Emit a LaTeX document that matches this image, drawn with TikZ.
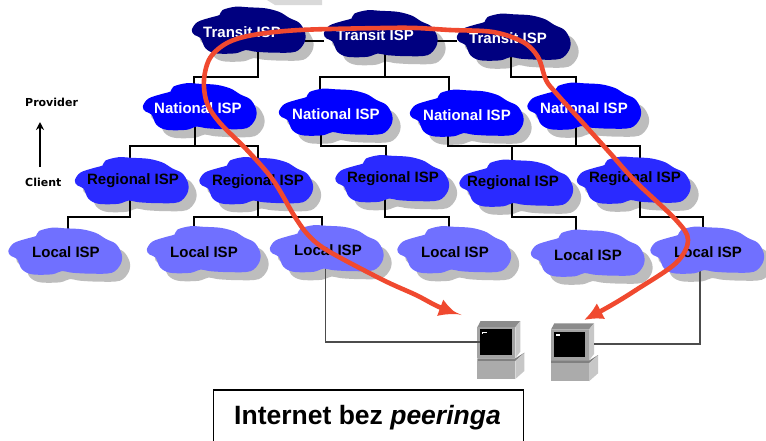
\documentclass[tikz,border=0pt]{standalone}
\usepackage{fontspec}
\setmainfont{Liberation Sans}
\newfontfamily\legendfont{DejaVu Sans}
\usetikzlibrary{arrows.meta}
\pgfdeclarelayer{shadowlayer}
\pgfdeclarelayer{cloudlayer}
\pgfdeclarelayer{redlayer}
\pgfsetlayers{shadowlayer,main,cloudlayer,redlayer}
\definecolor{transitblue}{HTML}{000080}
\definecolor{nationalblue}{HTML}{0000FF}
\definecolor{regionalblue}{HTML}{2A2AFF}
\definecolor{localblue}{HTML}{7070FF}
\definecolor{cloudshadow}{HTML}{BDBDBD}
\definecolor{redpath}{HTML}{F0492F}
\newcommand{\cloudpath}{plot[smooth cycle,tension=.55] coordinates{(-56.7,0)(-51,-8)(-36,-13)(-29,-15)(-26,-20)(-13,-23.3)(0,-22.7)(17,-21.7)(31,-18)(41,-12)(51,-7)(56.7,3)(55.7,13)(47,21.7)(27,22.7)(7,21.7)(-3,20)(-13,23.3)(-33,23.3)(-43,18.3)(-48,8)(-54,5)}}
% name, cx, cy, fill, text colour, tx, ty, label
\newcommand{\ispcloud}[8]{%
  \begin{pgfonlayer}{shadowlayer}
    \fill[cloudshadow,shift={(#2+8,#3+8)}] \cloudpath;
  \end{pgfonlayer}
  \begin{pgfonlayer}{cloudlayer}
    \fill[#4,shift={(#2,#3)}] \cloudpath;
    \node[cloudbox] (#1) at (#2,#3) {};
    \node[cloudtext,text=#5] (#1-t) at (#6,#7) {#8};
  \end{pgfonlayer}}
% name, x, y (top-left)
\newcommand{\computer}[3]{%
  \begin{scope}[shift={(#2,#3)}]
    \fill[black!45] (3.3,0)--(43,0)--(38,6.3)--(0,6.3)--cycle;
    \fill[black!22] (43,0)--(43,30.7)--(38,37.3)--(38,6.3)--cycle;
    \fill[black!36] (0,6.3) rectangle (38,37.3);
    \fill[black] (2.7,8.3) rectangle (34.3,34);
    \fill[white] (4.7,10.7) rectangle (9.3,12.2);
    \fill[white] (4.7,10.7) rectangle (6,13);
    \fill[black!50] (0,37.3)--(38,37.3)--(47,31.7)--(47,32)--(38,40)--(0,40)--cycle;
    \fill[black!33] (0,40) rectangle (38,58);
    \fill[black!22] (38,40)--(47,32)--(47,50)--(38,58)--cycle;
    \node[compbox] (#1) at (19,29) {};
  \end{scope}}
\tikzset{
  cloudbox/.style={minimum width=113pt,minimum height=47pt,inner sep=0pt,outer sep=0pt},
  compbox/.style={minimum width=38pt,minimum height=58pt,inner sep=0pt,outer sep=0pt},
  cloudtext/.style={inner sep=0pt,font=\fontsize{15}{18}\selectfont\bfseries},
  legend/.style={inner sep=0pt,anchor=west,font=\fontsize{11}{13}\selectfont\legendfont\bfseries},
  tree/.style={draw=black,line width=2pt},
  access/.style={draw=black!70,line width=1.2pt},
  redline/.style={draw=redpath,line width=4.6pt,{Latex[width=18pt,length=19pt]}-{Latex[width=18pt,length=19pt]}},
}
\begin{document}
\begin{tikzpicture}[x=1pt,y=-1pt]
\useasboundingbox (0,0) rectangle (766,440);
\begin{pgfonlayer}{shadowlayer}
\fill[white] (0,0) rectangle (766,440);
\fill[black!15] (267,0)--(322,0)--(322,5)--(275,5)--cycle;
\end{pgfonlayer}

\ispcloud{t1}{248.5}{30}{transitblue}{white}{242}{32}{Transit ISP}
\ispcloud{t2}{380.5}{33.5}{transitblue}{white}{375}{35}{Transit ISP}
\ispcloud{t3}{513.5}{37}{transitblue}{white}{508}{38}{Transit ISP}
\ispcloud{n1}{199.5}{106.5}{nationalblue}{white}{198}{108}{National ISP}
\ispcloud{n2}{335.5}{112}{nationalblue}{white}{336}{114}{National ISP}
\ispcloud{n3}{466.5}{113}{nationalblue}{white}{467}{115}{National ISP}
\ispcloud{n4}{584}{106}{nationalblue}{white}{584}{108}{National ISP}
\ispcloud{r1}{131.5}{180.5}{regionalblue}{black}{133}{181}{Regional ISP}
\ispcloud{r2}{256}{180.5}{regionalblue}{black}{258}{182}{Regional ISP}
\ispcloud{r3}{392}{178.5}{regionalblue}{black}{393}{179}{Regional ISP}
\ispcloud{r4}{516}{183}{regionalblue}{black}{513}{183}{Regional ISP}
\ispcloud{r5}{633.5}{180}{regionalblue}{black}{635}{179}{Regional ISP}
\ispcloud{l1}{65}{251}{localblue}{black}{66}{252}{Local ISP}
\ispcloud{l2}{203.5}{249.5}{localblue}{black}{204}{252}{Local ISP}
\ispcloud{l3}{326.5}{248.5}{localblue}{black}{328}{250}{Local ISP}
\ispcloud{l4}{454}{249.5}{localblue}{black}{455}{252}{Local ISP}
\ispcloud{l5}{587.5}{253}{localblue}{black}{588}{255}{Local ISP}
\ispcloud{l6}{707}{250}{localblue}{black}{708}{252}{Local ISP}

\coordinate (linkT) at (0,41);
\coordinate (busA) at (0,77);
\coordinate (busB) at (0,146);
\coordinate (busC) at (0,217);

\draw[tree] (t1.east |- linkT) -- (t2.west |- linkT);
\draw[tree] (t2.east |- linkT) -- (t3.west |- linkT);

\draw[tree] ([xshift=9.5,yshift=4]t1.south) -- ([xshift=9.5]t1.south |- busA) -| ([xshift=-5.5,yshift=-5]n1.north);
\draw[tree] ([xshift=-15.5,yshift=-5]n2.north) |- (n2.north |- busA) -| ([xshift=-17.5,yshift=-5]n3.north);
\draw[tree] ([xshift=4.5,yshift=4]t2.south) -- ([xshift=4.5]t2.south |- busA);
\draw[tree] ([xshift=-2.5,yshift=4]t3.south) -- ([xshift=-2.5]t3.south |- busA) -| ([xshift=-8,yshift=-5]n4.north);

\draw[tree] ([xshift=-1.5,yshift=-5]r1.north) |- (r1.north |- busB) -| ([xshift=2,yshift=-5]r2.north);
\draw[tree] ([xshift=-4.5,yshift=4]n1.south) -- ([xshift=-4.5]n1.south |- busB);
\draw[tree] ([xshift=-14.5,yshift=4]n2.south) -- ([xshift=-14.5]n2.south |- busB) -| ([xshift=-6,yshift=-5]r3.north);
\draw[tree] ([xshift=-18.5,yshift=4]n3.south) -- ([xshift=-18.5]n3.south |- busB) -| ([xshift=6.5,yshift=-5]r5.north);
\draw[tree] ([xshift=-8,yshift=4]n4.south) -- ([xshift=-8]n4.south |- busB);
\draw[tree] ([xshift=-4,yshift=-5]r4.north) -- ([xshift=-4]r4.north |- busB);

\draw[tree] ([xshift=-1.5,yshift=4]r1.south) -- ([xshift=-1.5]r1.south |- busC) -| ([xshift=3,yshift=-5]l1.north);
\draw[tree] ([xshift=-9.5,yshift=-5]l2.north) |- (l2.north |- busC) -| ([xshift=-4.5,yshift=-5]l3.north);
\draw[tree] ([xshift=2,yshift=4]r2.south) -- ([xshift=2]r2.south |- busC);
\draw[tree] ([xshift=-7,yshift=4]r3.south) -- ([xshift=-7]r3.south |- busC) -| ([xshift=-5,yshift=-5]l4.north);
\draw[tree] ([xshift=-4,yshift=4]r4.south) -- ([xshift=-4]r4.south |- busC) -| ([xshift=-11.5,yshift=-5]l5.north);
\draw[tree] ([xshift=6.5,yshift=4]r5.south) -- ([xshift=6.5]r5.south |- busC) -| ([xshift=-4,yshift=-5]l6.north);

\computer{c1}{477.3}{321}
\computer{c2}{551}{323.3}
\coordinate (c1port) at (480,342);
\coordinate (c2port) at (594,344);
\draw[access] ([xshift=-1,yshift=4]l3.south) |- (c1port);
\draw[access] ([xshift=-7,yshift=4]l6.south) |- (c2port);

\node[legend] (provider) at (25,102) {Provider};
\node[legend] (client) at (25,182) {Client};
\coordinate (arrowfoot) at (40,167);
\coordinate (arrowtip) at (40,122);
\draw[line width=1.2pt,-{Stealth[width=8pt,length=8pt]}] (arrowfoot) -- (arrowtip);

\node[draw=black,line width=1.5pt,minimum width=310pt,minimum height=60pt,inner sep=0pt] (title) at (368.5,420) {};
\node[inner sep=0pt,font=\fontsize{26.5}{30}\selectfont\bfseries] (titletext) at (367.5,418) {Internet bez \textit{peeringa}};

\begin{pgfonlayer}{redlayer}
\coordinate (redA) at (458,314.5);
\coordinate (redB) at (584,320);
\draw[redline] plot[smooth,tension=.55] coordinates{(redA)(437,306)(416,295)(383,280)(330,252)(310,237)(295,217)(273,180)(247,150)(220,123)(207,103)(204,80)(210,58)(227,43)(253,35)(300,30)(383,28)(416,28)(450,30)(493,32)(523,42)(538,57)(546,80)(556,93)(583,123)(610,153)(636,182)(676,220)(688,240)(676,263)(636,290)(610,306)(redB)};
\end{pgfonlayer}
\end{tikzpicture}
\end{document}
